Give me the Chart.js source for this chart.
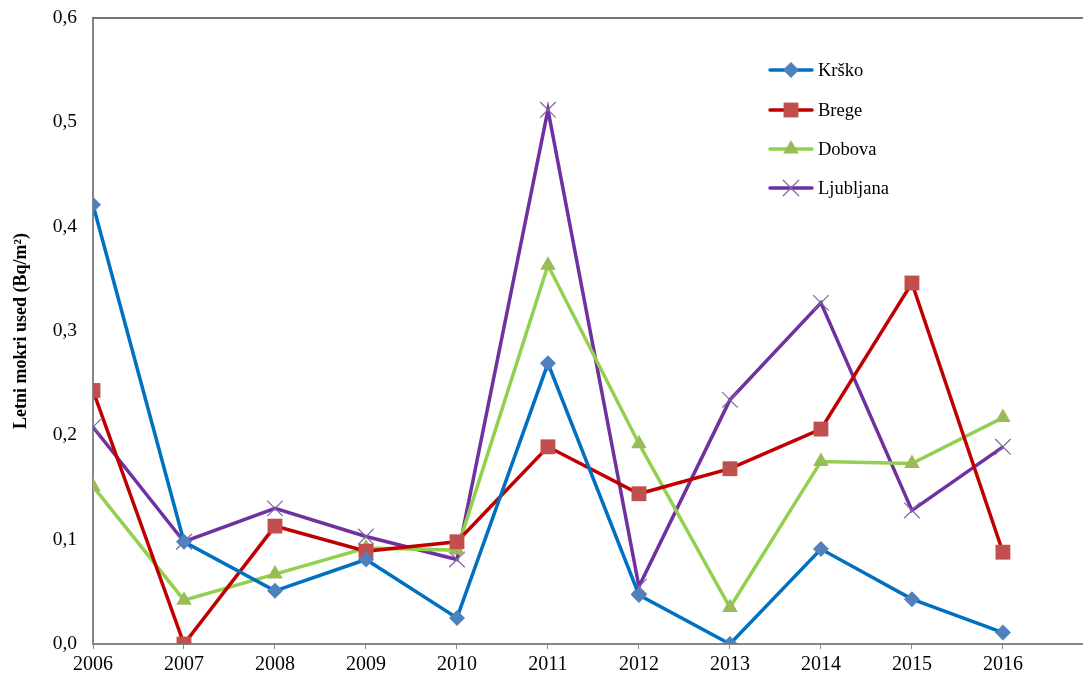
<!DOCTYPE html>
<html>
<head>
<meta charset="utf-8">
<script src="https://cdn.jsdelivr.net/npm/chart.js@4/dist/chart.umd.min.js"></script>
<style>
    html, body { margin: 0; padding: 0; background: #fff; }
    #wrap { width: 1083px; height: 675px; position: relative; }
</style>
</head>
<body>
<div id="wrap"><canvas id="chart"></canvas></div>
<script>
const years = [2006, 2007, 2008, 2009, 2010, 2011, 2012, 2013, 2014, 2015, 2016];
const krsko = [0.421, 0.098, 0.051, 0.081, 0.025, 0.269, 0.047, 0.0, 0.091, 0.043, 0.011];
const brege = [0.243, 0.0, 0.113, 0.089, 0.098, 0.189, 0.144, 0.168, 0.206, 0.346, 0.088];
const dobova = [0.151, 0.042, 0.067, 0.092, 0.090, 0.363, 0.192, 0.035, 0.175, 0.173, 0.217];
const ljubljana = [0.208, 0.098, 0.130, 0.103, 0.081, 0.512, 0.055, 0.234, 0.327, 0.128, 0.189];
const seriesNames = ['Krško', 'Brege', 'Dobova', 'Ljubljana'];
const yTicks = [0, 0.1, 0.2, 0.3, 0.4, 0.5, 0.6];

const serif = '"Liberation Serif", "Times New Roman", serif';

const toPoints = vals => vals.map((v, i) => ({ x: years[i], y: v }));

const makeSet = (label, vals, lineColor, markColor, style, radius, bw) => ({
    label: label,
    data: toPoints(vals),
    borderColor: lineColor,
    borderWidth: 3.5,
    backgroundColor: markColor,
    pointStyle: style,
    pointRadius: radius,
    pointBackgroundColor: markColor,
    pointBorderColor: markColor,
    pointBorderWidth: bw,
    tension: 0
});

const datasets = [
    makeSet(seriesNames[0], krsko, '#0070C0', '#4F81BD', 'rectRot', 8, 0),
    makeSet(seriesNames[1], brege, '#C00000', '#C0504D', 'rect', 10.5, 0),
    makeSet(seriesNames[2], dobova, '#92D050', '#9BBB59', 'triangle', 9, 0),
    makeSet(seriesNames[3], ljubljana, '#7030A0', '#8064A2', 'crossRot', 11, 1.2)
];

// legend drawn inside the plot like the original
const sideLegend = {
    id: 'sideLegend',
    afterDraw(chart) {
        const ctx = chart.ctx;
        const x0 = 770, x1 = 812, tx = 818;
        const rows = [70, 110, 149, 188];
        ctx.save();
        chart.data.datasets.forEach((ds, i) => {
            const y = rows[i];
            ctx.strokeStyle = ds.borderColor;
            ctx.lineWidth = 3.5;
            ctx.lineCap = 'round';
            ctx.beginPath();
            ctx.moveTo(x0, y);
            ctx.lineTo(x1, y);
            ctx.stroke();
            ctx.fillStyle = ds.pointBackgroundColor;
            ctx.strokeStyle = ds.pointBorderColor;
            ctx.lineWidth = ds.pointBorderWidth;
            Chart.helpers.drawPoint(ctx, {
                pointStyle: ds.pointStyle,
                radius: ds.pointRadius,
                borderWidth: ds.pointBorderWidth,
                rotation: 0
            }, (x0 + x1) / 2, y);
            ctx.fillStyle = '#000';
            ctx.font = '18.5px ' + serif;
            ctx.textBaseline = 'middle';
            ctx.textAlign = 'left';
            ctx.fillText(ds.label, tx, y + 1);
        });
        ctx.restore();
    }
};

// top border of the plot area
const topBorder = {
    id: 'topBorder',
    beforeDatasetsDraw(chart) {
        const { ctx, chartArea } = chart;
        ctx.save();
        ctx.strokeStyle = '#4a4a4a';
        ctx.lineWidth = 1.5;
        ctx.beginPath();
        ctx.moveTo(chartArea.left, chartArea.top);
        ctx.lineTo(chartArea.right, chartArea.top);
        ctx.stroke();
        ctx.restore();
    }
};

new Chart(document.getElementById('chart'), {
    type: 'line',
    data: { datasets: datasets },
    options: {
        responsive: true,
        maintainAspectRatio: false,
        animation: false,
        layout: { autoPadding: false, padding: { top: 18, right: 0, bottom: 0, left: 0 } },
        plugins: {
            legend: { display: false },
            tooltip: { enabled: false }
        },
        scales: {
            x: {
                type: 'linear',
                min: 2006,
                max: 2016.88,
                afterBuildTicks: scale => {
                    scale.ticks = years.map(v => ({ value: v }));
                },
                afterFit: scale => {
                    scale.height = 31;
                    scale.paddingLeft = 0;
                    scale.paddingRight = 0;
                },
                grid: {
                    drawOnChartArea: false,
                    drawTicks: true,
                    tickLength: 5,
                    color: '#868686'
                },
                border: { color: '#868686', width: 2 },
                ticks: {
                    color: '#000',
                    padding: 4,
                    maxRotation: 0,
                    autoSkip: false,
                    font: { family: serif, size: 20 },
                    callback: v => String(v)
                }
            },
            y: {
                min: 0,
                max: 0.6,
                afterBuildTicks: scale => {
                    scale.ticks = yTicks.map(v => ({ value: v }));
                },
                afterFit: scale => {
                    scale.width = 93;
                    scale.paddingTop = 0;
                    scale.paddingBottom = 0;
                },
                grid: { display: false, drawTicks: false },
                border: { color: '#868686', width: 2 },
                ticks: {
                    color: '#000',
                    padding: 16,
                    font: { family: serif, size: 19.5 },
                    callback: v => v.toFixed(1).replace('.', ',')
                },
                title: {
                    display: true,
                    text: 'Letni mokri used (Bq/m²)',
                    color: '#000',
                    padding: { top: 11, bottom: 0 },
                    font: { family: serif, size: 18, weight: 'bold' }
                }
            }
        }
    },
    plugins: [topBorder, sideLegend]
});
</script>
</body>
</html>
